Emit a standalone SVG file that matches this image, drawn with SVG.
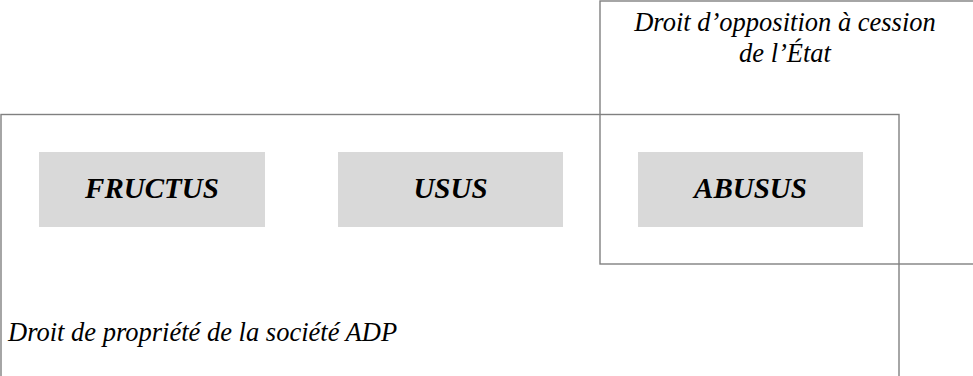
<svg xmlns="http://www.w3.org/2000/svg" width="973" height="376" viewBox="0 0 973 376">
<style>
.frame{fill:none;stroke:#808080;stroke-width:1.4}
.box{fill:#d9d9d9}
.lbl{font-family:"Liberation Serif","Times New Roman",serif;font-style:italic;font-weight:bold;font-size:29px;fill:#000;text-anchor:middle}
.cap{font-family:"Liberation Serif","Times New Roman",serif;font-style:italic;font-size:26.5px;fill:#000}
</style>
<rect width="973" height="376" fill="#fff"/>
<g id="propriete">
<rect class="frame" x="1" y="114.5" width="898" height="280"/>
<text class="cap" x="8" y="341">Droit de propriété de la société ADP</text>
</g>
<g id="opposition">
<rect class="frame" x="600" y="1" width="400" height="263"/>
<text class="cap" x="785" y="31" text-anchor="middle">Droit d’opposition à cession</text>
<text class="cap" x="785" y="62" text-anchor="middle">de l’État</text>
</g>
<g id="fructus">
<rect class="box" x="39" y="152" width="226" height="75"/>
<text class="lbl" x="152" y="198">FRUCTUS</text>
</g>
<g id="usus">
<rect class="box" x="338" y="152" width="225" height="75"/>
<text class="lbl" x="450.5" y="198">USUS</text>
</g>
<g id="abusus">
<rect class="box" x="638" y="152" width="225" height="75"/>
<text class="lbl" x="750.5" y="198">ABUSUS</text>
</g>
<g id="connectors"></g>
</svg>
